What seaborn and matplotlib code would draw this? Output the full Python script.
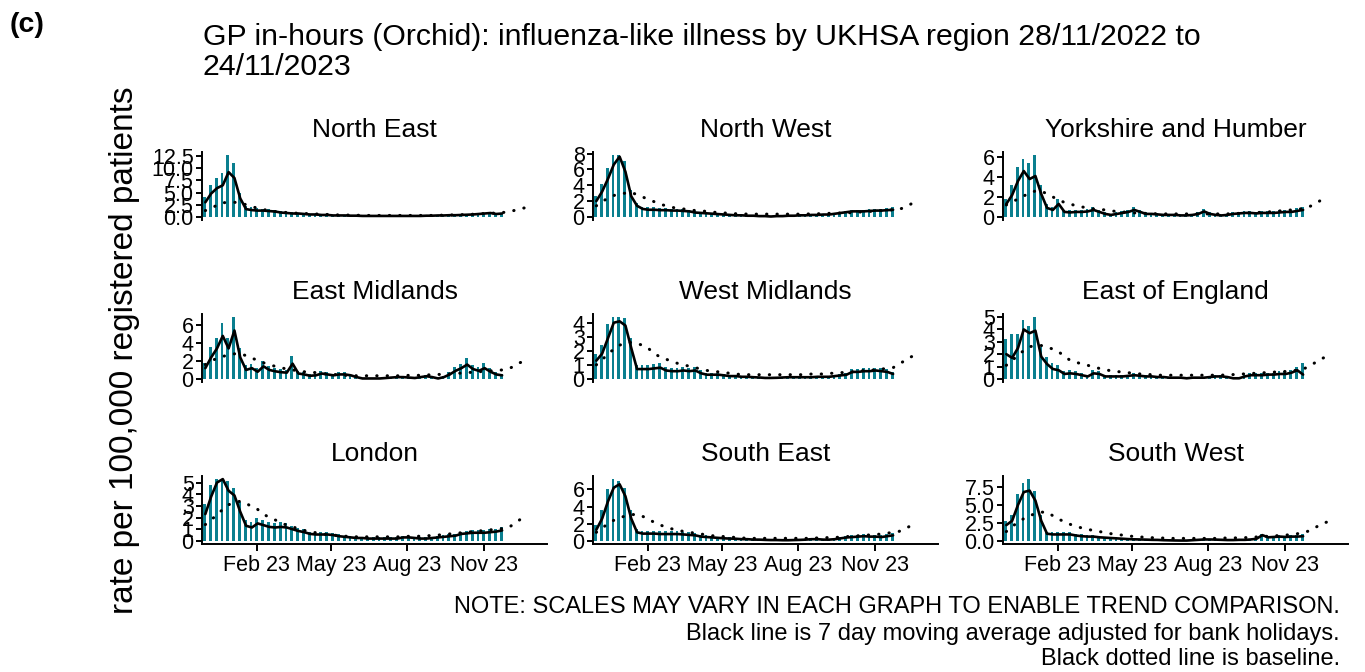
import numpy as np
import pandas as pd
import matplotlib
matplotlib.use("Agg")
import matplotlib.pyplot as plt
import matplotlib.ticker as mticker
import seaborn as sns

# Regions in facet order
regions = ["North East", "North West", "Yorkshire and Humber",
           "East Midlands", "West Midlands", "East of England",
           "London", "South East", "South West"]

first_monday = "2022-11-28"

# weekday bar level (rate per 100,000), one value per week from 28/11/2022
ne_bars = [4.0, 6.5, 8.0, 9.0, 12.7, 11.0, 5.0, 2.2, 2.0, 1.8, 1.7, 1.6, 1.4,
           1.2, 1.1, 1.0, 0.9, 0.8, 0.7, 0.65, 0.55, 0.5, 0.4, 0.4, 0.4, 0.35,
           0.35, 0.3, 0.3, 0.3, 0.3, 0.3, 0.3, 0.3, 0.3, 0.3, 0.3, 0.3, 0.35,
           0.35, 0.4, 0.4, 0.45, 0.5, 0.55, 0.6, 0.65, 0.8, 0.9, 1.0, 0.8, 0.9]
nw_bars = [2.6, 4.2, 6.2, 7.8, 7.8, 7.0, 3.4, 1.8, 1.3, 1.2, 1.2, 1.1, 1.1,
           1.05, 1.0, 1.0, 0.9, 0.75, 0.65, 0.6, 0.55, 0.45, 0.4, 0.35, 0.3, 0.25,
           0.2, 0.2, 0.15, 0.15, 0.1, 0.15, 0.15, 0.2, 0.2, 0.25, 0.25, 0.3, 0.35,
           0.4, 0.4, 0.55, 0.65, 0.8, 0.9, 0.9, 0.9, 1.0, 1.05, 1.05, 1.1, 1.2]
yh_bars = [1.8, 3.2, 5.0, 5.8, 5.4, 6.2, 3.2, 1.3, 1.0, 1.8, 0.7, 0.65, 0.7,
           0.7, 0.8, 1.0, 0.7, 0.45, 0.3, 0.45, 0.55, 0.7, 1.0, 0.7, 0.45, 0.4,
           0.35, 0.3, 0.3, 0.3, 0.2, 0.2, 0.3, 0.45, 0.8, 0.45, 0.3, 0.2, 0.3,
           0.45, 0.5, 0.55, 0.55, 0.5, 0.55, 0.55, 0.55, 0.65, 0.7, 0.7, 0.85, 1.0]
em_bars = [1.8, 3.6, 4.6, 6.2, 4.6, 6.9, 3.4, 1.5, 1.7, 1.2, 2.0, 1.4, 1.2,
           1.1, 1.0, 2.6, 0.9, 0.75, 0.5, 0.6, 0.9, 0.75, 0.6, 0.75, 0.75, 0.6,
           0.3, 0.1, 0.1, 0.1, 0.1, 0.15, 0.2, 0.3, 0.3, 0.2, 0.15, 0.3, 0.45,
           0.3, 0.1, 0.3, 0.75, 1.3, 1.7, 2.3, 1.6, 1.3, 1.8, 1.2, 0.8, 0.6]
wm_bars = [1.8, 2.4, 3.9, 4.4, 4.4, 4.3, 2.9, 1.0, 1.0, 1.0, 1.05, 1.1, 0.85,
           0.8, 0.8, 0.85, 0.8, 0.85, 0.6, 0.45, 0.45, 0.45, 0.35, 0.3, 0.3, 0.22,
           0.22, 0.18, 0.15, 0.1, 0.1, 0.12, 0.15, 0.18, 0.18, 0.18, 0.18, 0.18, 0.22,
           0.22, 0.22, 0.3, 0.35, 0.45, 0.7, 0.7, 0.75, 0.75, 0.8, 0.75, 0.7, 0.5]
ee_bars = [3.2, 3.6, 3.6, 4.8, 4.3, 5.0, 2.6, 1.8, 1.3, 1.1, 0.6, 0.7, 0.6,
           0.45, 0.3, 0.7, 0.6, 0.3, 0.3, 0.3, 0.3, 0.35, 0.45, 0.35, 0.3, 0.3,
           0.22, 0.22, 0.15, 0.15, 0.15, 0.08, 0.15, 0.15, 0.15, 0.22, 0.3, 0.3, 0.22,
           0.08, 0.08, 0.3, 0.45, 0.45, 0.45, 0.5, 0.5, 0.6, 0.6, 0.75, 1.0, 1.3]
ld_bars = [3.2, 4.8, 5.3, 5.3, 5.1, 4.5, 3.3, 1.8, 1.6, 2.0, 1.8, 1.6, 1.5,
           1.6, 1.5, 1.3, 1.1, 1.0, 0.8, 0.75, 0.75, 0.75, 0.65, 0.55, 0.45, 0.4,
           0.35, 0.35, 0.3, 0.3, 0.3, 0.3, 0.3, 0.3, 0.4, 0.4, 0.35, 0.3, 0.3,
           0.35, 0.4, 0.5, 0.55, 0.6, 0.8, 0.85, 0.9, 0.9, 0.9, 1.0, 1.05, 1.15]
se_bars = [1.8, 3.6, 6.0, 7.2, 7.0, 6.2, 3.6, 1.4, 1.2, 1.2, 1.2, 1.1, 1.1,
           1.1, 1.1, 1.05, 1.0, 0.9, 0.7, 0.65, 0.55, 0.5, 0.45, 0.4, 0.35, 0.3,
           0.3, 0.22, 0.22, 0.18, 0.15, 0.15, 0.12, 0.12, 0.15, 0.18, 0.22, 0.3, 0.3,
           0.22, 0.22, 0.3, 0.45, 0.55, 0.65, 0.7, 0.75, 0.7, 0.7, 0.65, 0.75, 0.9]
sw_bars = [2.8, 3.6, 6.5, 8.1, 8.6, 7.0, 3.6, 1.3, 1.2, 1.2, 1.2, 1.2, 1.0,
           0.9, 0.8, 0.8, 0.7, 0.6, 0.55, 0.5, 0.4, 0.35, 0.3, 0.28, 0.25, 0.2,
           0.2, 0.15, 0.12, 0.1, 0.08, 0.08, 0.15, 0.2, 0.28, 0.28, 0.25, 0.2, 0.18,
           0.18, 0.2, 0.2, 0.28, 0.4, 1.0, 0.7, 0.75, 0.8, 0.75, 0.8, 0.85, 1.0]

# 7 day moving average, weekly readings
ne_avg = [3.0, 4.8, 5.9, 6.5, 9.2, 8.0, 3.8, 1.6, 1.4, 1.3, 1.3, 1.2, 1.1,
          0.9, 0.8, 0.7, 0.7, 0.6, 0.5, 0.5, 0.4, 0.4, 0.3, 0.3, 0.3, 0.25,
          0.25, 0.2, 0.2, 0.2, 0.2, 0.2, 0.2, 0.2, 0.2, 0.2, 0.2, 0.2, 0.25,
          0.25, 0.3, 0.3, 0.35, 0.35, 0.4, 0.45, 0.5, 0.6, 0.7, 0.8, 0.6, 0.7]
nw_avg = [2.0, 3.2, 4.8, 6.6, 7.6, 5.7, 2.6, 1.4, 1.0, 0.9, 0.9, 0.85, 0.85,
          0.8, 0.8, 0.75, 0.7, 0.55, 0.5, 0.45, 0.4, 0.35, 0.3, 0.25, 0.2, 0.2,
          0.15, 0.15, 0.1, 0.1, 0.05, 0.1, 0.1, 0.15, 0.15, 0.2, 0.2, 0.25, 0.25,
          0.3, 0.3, 0.4, 0.5, 0.6, 0.7, 0.7, 0.7, 0.75, 0.8, 0.8, 0.85, 0.9]
yh_avg = [1.3, 2.2, 3.6, 4.6, 3.8, 4.1, 2.3, 0.9, 0.7, 1.3, 0.5, 0.45, 0.5,
          0.5, 0.55, 0.7, 0.5, 0.3, 0.2, 0.3, 0.4, 0.5, 0.7, 0.5, 0.3, 0.3,
          0.25, 0.2, 0.2, 0.2, 0.15, 0.15, 0.2, 0.3, 0.55, 0.3, 0.2, 0.15, 0.2,
          0.3, 0.35, 0.4, 0.4, 0.35, 0.4, 0.4, 0.4, 0.45, 0.5, 0.5, 0.6, 0.7]
em_avg = [1.2, 2.4, 3.4, 4.8, 3.4, 5.4, 2.4, 1.0, 1.2, 0.8, 1.4, 1.0, 0.85,
          0.75, 0.7, 1.7, 0.6, 0.5, 0.35, 0.4, 0.6, 0.5, 0.4, 0.5, 0.5, 0.4,
          0.2, 0.05, 0.05, 0.05, 0.05, 0.1, 0.15, 0.2, 0.2, 0.15, 0.1, 0.2, 0.3,
          0.2, 0.05, 0.2, 0.5, 0.9, 1.2, 1.6, 1.1, 0.9, 1.2, 0.8, 0.5, 0.4]
wm_avg = [1.3, 1.8, 2.9, 4.0, 4.1, 3.8, 2.2, 0.7, 0.7, 0.7, 0.75, 0.8, 0.6,
          0.55, 0.55, 0.6, 0.55, 0.6, 0.4, 0.3, 0.3, 0.3, 0.25, 0.2, 0.2, 0.15,
          0.15, 0.12, 0.1, 0.07, 0.07, 0.08, 0.1, 0.12, 0.12, 0.12, 0.12, 0.12, 0.15,
          0.15, 0.15, 0.2, 0.25, 0.3, 0.5, 0.5, 0.55, 0.55, 0.6, 0.55, 0.5, 0.35]
ee_avg = [2.0, 1.7, 2.5, 4.0, 3.7, 3.9, 1.8, 1.2, 0.8, 0.7, 0.4, 0.45, 0.4,
          0.3, 0.2, 0.45, 0.4, 0.2, 0.2, 0.2, 0.2, 0.25, 0.3, 0.25, 0.2, 0.2,
          0.15, 0.15, 0.1, 0.1, 0.1, 0.05, 0.1, 0.1, 0.1, 0.15, 0.2, 0.2, 0.15,
          0.05, 0.05, 0.2, 0.3, 0.3, 0.3, 0.35, 0.35, 0.4, 0.4, 0.5, 0.7, 0.35]
ld_avg = [2.3, 3.8, 5.0, 5.3, 4.3, 3.9, 2.5, 1.3, 1.15, 1.5, 1.35, 1.2, 1.15,
          1.2, 1.15, 1.0, 0.85, 0.75, 0.6, 0.55, 0.55, 0.55, 0.5, 0.4, 0.35, 0.3,
          0.25, 0.25, 0.2, 0.2, 0.2, 0.2, 0.2, 0.2, 0.3, 0.3, 0.25, 0.2, 0.2,
          0.25, 0.3, 0.35, 0.4, 0.45, 0.6, 0.65, 0.7, 0.7, 0.7, 0.75, 0.8, 0.9]
se_avg = [1.3, 2.6, 4.6, 6.2, 6.6, 5.2, 2.6, 1.0, 0.85, 0.85, 0.85, 0.8, 0.8,
          0.8, 0.8, 0.75, 0.7, 0.65, 0.5, 0.45, 0.4, 0.35, 0.3, 0.27, 0.25, 0.2,
          0.2, 0.15, 0.15, 0.12, 0.1, 0.1, 0.08, 0.08, 0.1, 0.12, 0.15, 0.2, 0.2,
          0.15, 0.15, 0.2, 0.3, 0.4, 0.45, 0.5, 0.55, 0.5, 0.5, 0.45, 0.55, 0.65]
sw_avg = [2.2, 2.8, 5.0, 6.8, 7.0, 5.6, 2.8, 1.0, 0.9, 0.9, 0.9, 0.9, 0.75,
          0.65, 0.6, 0.6, 0.5, 0.45, 0.4, 0.35, 0.3, 0.25, 0.22, 0.2, 0.18, 0.15,
          0.14, 0.1, 0.08, 0.06, 0.05, 0.05, 0.1, 0.15, 0.2, 0.2, 0.18, 0.15, 0.12,
          0.12, 0.15, 0.15, 0.2, 0.3, 0.8, 0.5, 0.55, 0.6, 0.55, 0.6, 0.6, 0.65]

# baseline, weekly, runs on past the data into Dec 2023
ne_base = [1.3, 1.8, 2.4, 2.9, 3.0, 3.0, 2.9, 2.5, 2.1, 1.8, 1.5, 1.3, 1.1, 1.0,
           0.9, 0.8, 0.75, 0.7, 0.65, 0.6, 0.55, 0.5, 0.45, 0.4, 0.4, 0.35, 0.35, 0.3,
           0.3, 0.3, 0.3, 0.3, 0.3, 0.3, 0.3, 0.3, 0.3, 0.3, 0.3, 0.3, 0.35, 0.35,
           0.4, 0.4, 0.45, 0.5, 0.55, 0.6, 0.7, 0.75, 0.8, 0.9, 1.0, 1.3, 1.6, 1.9]
nw_base = [1.4, 1.9, 2.4, 2.7, 2.9, 3.0, 3.1, 2.8, 2.5, 2.2, 1.9, 1.6, 1.4, 1.2,
           1.1, 1.0, 0.9, 0.8, 0.75, 0.7, 0.6, 0.55, 0.5, 0.45, 0.4, 0.4, 0.35, 0.35,
           0.35, 0.35, 0.35, 0.35, 0.35, 0.35, 0.35, 0.35, 0.35, 0.4, 0.4, 0.4, 0.45, 0.45,
           0.5, 0.5, 0.55, 0.6, 0.65, 0.7, 0.75, 0.8, 0.85, 0.9, 0.95, 1.2, 1.6, 2.0]
yh_base = [1.2, 1.5, 1.8, 2.1, 2.4, 2.6, 2.6, 2.3, 2.0, 1.7, 1.45, 1.3, 1.1, 1.0,
           0.9, 0.8, 0.75, 0.7, 0.6, 0.55, 0.5, 0.45, 0.4, 0.4, 0.35, 0.35, 0.3, 0.3,
           0.3, 0.3, 0.3, 0.3, 0.3, 0.3, 0.3, 0.3, 0.3, 0.3, 0.3, 0.35, 0.35, 0.4,
           0.4, 0.45, 0.45, 0.5, 0.55, 0.6, 0.65, 0.7, 0.75, 0.85, 1.0, 1.3, 1.65, 1.9]
em_base = [1.6, 2.0, 2.3, 2.5, 2.7, 2.8, 2.8, 2.6, 2.3, 2.1, 1.8, 1.6, 1.4, 1.25,
           1.1, 1.0, 0.9, 0.8, 0.75, 0.7, 0.6, 0.55, 0.5, 0.45, 0.4, 0.4, 0.35, 0.35,
           0.35, 0.35, 0.35, 0.35, 0.35, 0.35, 0.35, 0.4, 0.4, 0.4, 0.45, 0.45, 0.5, 0.5,
           0.55, 0.6, 0.65, 0.7, 0.75, 0.8, 0.85, 0.9, 0.95, 1.0, 1.1, 1.4, 1.8, 2.0]
wm_base = [1.0, 1.35, 1.8, 2.1, 2.4, 2.55, 2.6, 2.5, 2.4, 2.15, 1.8, 1.55, 1.4, 1.25,
           1.1, 1.0, 0.9, 0.8, 0.7, 0.6, 0.55, 0.5, 0.45, 0.4, 0.35, 0.3, 0.3, 0.3,
           0.3, 0.3, 0.3, 0.3, 0.3, 0.3, 0.3, 0.3, 0.3, 0.35, 0.35, 0.35, 0.4, 0.4,
           0.45, 0.45, 0.5, 0.55, 0.6, 0.6, 0.65, 0.7, 0.75, 0.8, 1.05, 1.3, 1.55, 1.75]
ee_base = [1.1, 1.5, 1.9, 2.3, 2.6, 2.7, 2.7, 2.6, 2.4, 2.2, 1.8, 1.5, 1.35, 1.2,
           1.1, 0.95, 0.85, 0.75, 0.65, 0.6, 0.55, 0.5, 0.45, 0.4, 0.35, 0.35, 0.3, 0.3,
           0.3, 0.3, 0.3, 0.3, 0.3, 0.3, 0.3, 0.3, 0.3, 0.3, 0.35, 0.35, 0.4, 0.4,
           0.45, 0.45, 0.5, 0.5, 0.55, 0.6, 0.6, 0.65, 0.7, 0.8, 1.0, 1.3, 1.6, 1.8]
ld_base = [1.4, 1.8, 2.25, 2.7, 3.1, 3.3, 3.4, 3.25, 2.9, 2.7, 2.3, 2.0, 1.8, 1.55,
           1.35, 1.2, 1.05, 0.9, 0.8, 0.7, 0.6, 0.55, 0.5, 0.45, 0.4, 0.4, 0.35, 0.35,
           0.35, 0.35, 0.35, 0.35, 0.35, 0.35, 0.35, 0.4, 0.4, 0.4, 0.45, 0.45, 0.5, 0.55,
           0.6, 0.65, 0.7, 0.75, 0.8, 0.85, 0.9, 0.95, 1.0, 1.05, 1.1, 1.45, 1.8, 2.2]
se_base = [1.0, 1.5, 2.0, 2.4, 2.7, 2.9, 3.05, 3.1, 2.85, 2.5, 2.15, 1.85, 1.6, 1.4,
           1.25, 1.1, 1.0, 0.9, 0.8, 0.7, 0.6, 0.55, 0.5, 0.45, 0.4, 0.35, 0.3, 0.3,
           0.3, 0.3, 0.3, 0.3, 0.3, 0.3, 0.3, 0.3, 0.3, 0.3, 0.35, 0.35, 0.4, 0.4,
           0.45, 0.5, 0.55, 0.6, 0.65, 0.7, 0.75, 0.8, 0.9, 1.0, 1.1, 1.4, 1.75, 2.0]
sw_base = [1.3, 2.0, 2.6, 3.1, 3.5, 3.8, 4.0, 4.0, 3.5, 3.0, 2.7, 2.3, 2.0, 1.8,
           1.6, 1.45, 1.3, 1.15, 1.0, 0.9, 0.8, 0.7, 0.6, 0.55, 0.5, 0.45, 0.4, 0.4,
           0.35, 0.35, 0.35, 0.35, 0.35, 0.35, 0.35, 0.35, 0.35, 0.4, 0.4, 0.4, 0.45, 0.45,
           0.5, 0.55, 0.6, 0.65, 0.7, 0.75, 0.8, 0.9, 1.0, 1.1, 1.4, 1.8, 2.3, 2.6]

y_steps = [2.5, 2, 2, 2, 1, 1, 1, 2, 2.5]
month_ticks = ["2023-02-01", "2023-05-01", "2023-08-01", "2023-11-01"]
month_labels = ["Feb 23", "May 23", "Aug 23", "Nov 23"]

all_bars = [ne_bars, nw_bars, yh_bars, em_bars, wm_bars, ee_bars, ld_bars, se_bars, sw_bars]
all_avg = [ne_avg, nw_avg, yh_avg, em_avg, wm_avg, ee_avg, ld_avg, se_avg, sw_avg]
all_base = [ne_base, nw_base, yh_base, em_base, wm_base, ee_base, ld_base, se_base, sw_base]

teal = "#0a7f8f"

sns.set_theme(style="ticks")
plt.rcParams["font.family"] = ["Liberation Sans", "DejaVu Sans"]
plt.rcParams["text.color"] = "black"
plt.rcParams["axes.labelcolor"] = "black"
plt.rcParams["xtick.color"] = "black"
plt.rcParams["ytick.color"] = "black"

W, H = 1365, 672
fig = plt.figure(figsize=(W / 100, H / 100), dpi=100)

start = pd.Timestamp(first_monday)


def week_dates(n, offset):
    return start + pd.to_timedelta(np.arange(n) * 7 + offset, unit="D")


col_left = [202, 593, 1003]
row_top = [152, 314, 476]
pw, ph = 345, 68
xmin = start - pd.Timedelta(days=1)
xmax = start + pd.Timedelta(days=414)

for i, name in enumerate(regions):
    r, c = divmod(i, 3)
    ax = fig.add_axes([col_left[c] / W, 1 - (row_top[r] + ph) / H, pw / W, ph / H])
    bars, avg, base = all_bars[i], all_avg[i], all_base[i]

    ax.bar(week_dates(len(bars), 2), bars, width=3.4, color=teal, linewidth=0)
    sns.lineplot(x=week_dates(len(base), 3), y=base, ax=ax, color="black",
                 lw=2.2, linestyle=(0, (0.1, 3.3)), dash_capstyle="round")
    sns.lineplot(x=week_dates(len(avg), 3), y=avg, ax=ax, color="black", lw=1.9)

    m = max(bars)
    ax.set_xlim(xmin, xmax)
    ax.set_ylim(-0.05 * m, 1.05 * m)
    ax.yaxis.set_major_locator(mticker.MultipleLocator(y_steps[i]))
    if y_steps[i] != int(y_steps[i]):
        ax.yaxis.set_major_formatter(mticker.FormatStrFormatter("%.1f"))
    else:
        ax.yaxis.set_major_formatter(mticker.FormatStrFormatter("%d"))

    ax.set_title(name, fontsize=19, pad=11, color="black")
    ax.set_xlabel("")
    ax.set_ylabel("")
    sns.despine(ax=ax)
    ax.spines["left"].set_linewidth(1.4)
    ax.spines["bottom"].set_linewidth(1.4)
    ax.spines["left"].set_color("black")
    ax.spines["bottom"].set_color("black")
    ax.tick_params(axis="both", labelsize=15.5, width=1.4, length=4, pad=2,
                   colors="black", labelcolor="black")
    if r < 2:
        ax.spines["bottom"].set_visible(False)
        ax.set_xticks([])
    else:
        ax.set_xticks(pd.to_datetime(month_ticks))
        ax.set_xticklabels(month_labels)
        ax.tick_params(axis="x", length=5, pad=3)

fig.text(10 / W, 1 - 25 / H, "(c)", fontsize=20.5, fontweight="bold", va="center")
fig.text(203 / W, 1 - 52 / H,
         "GP in-hours (Orchid): influenza-like illness by UKHSA region 28/11/2022 to\n24/11/2023",
         fontsize=21.8, va="center", ha="left", linespacing=1.05)
fig.text(125 / W, 1 - 350 / H, "rate per 100,000 registered patients",
         fontsize=24, rotation=90, va="center", ha="center")
notes = ["NOTE: SCALES MAY VARY IN EACH GRAPH TO ENABLE TREND COMPARISON.",
         "Black line is 7 day moving average adjusted for bank holidays.",
         "Black dotted line is baseline."]
for note, yy in zip(notes, [607, 634, 659]):
    fig.text(1340 / W, 1 - yy / H, note, fontsize=17, ha="right", va="center")

fig.savefig("out.png", dpi=100)
